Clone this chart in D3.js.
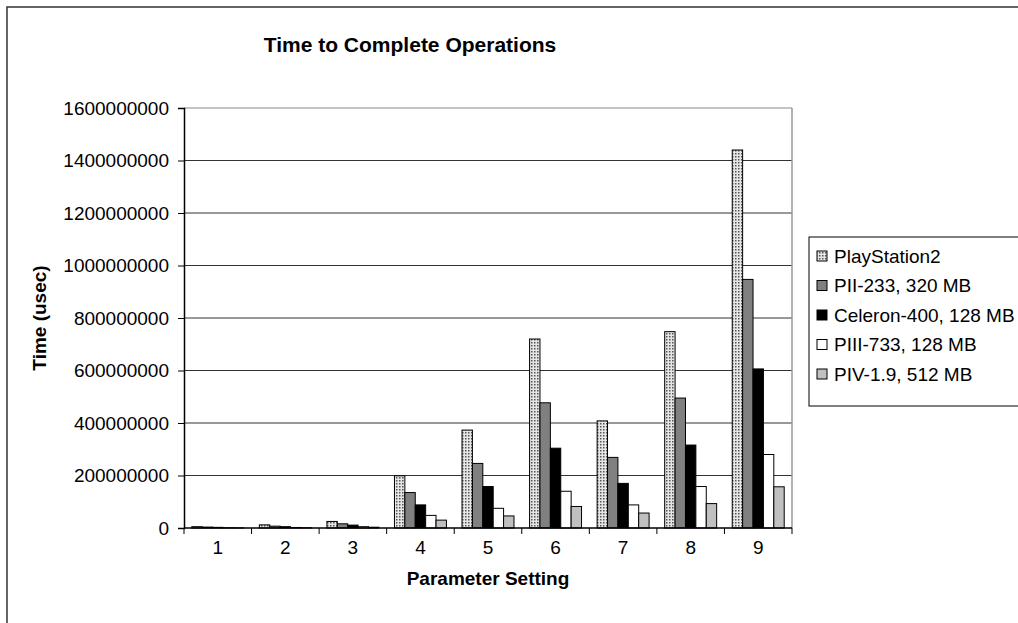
<!DOCTYPE html>
<html><head><meta charset="utf-8">
<script src="https://cdn.jsdelivr.net/npm/d3@7"></script>
<style>body{margin:0;background:#fff;}svg{display:block;font-family:"Liberation Sans",Arial,sans-serif;}</style>
</head><body>
<svg id="c" width="1018" height="623"></svg>
<script>
const categories = ["1","2","3","4","5","6","7","8","9"];
const seriesNames = ["PlayStation2","PII-233, 320 MB","Celeron-400, 128 MB","PIII-733, 128 MB","PIV-1.9, 512 MB"];
const playStation2 = [5e6, 12e6, 25e6, 199e6, 373e6, 720e6, 408e6, 748e6, 1440e6];
const pII233 = [3.5e6, 7e6, 16e6, 135e6, 246e6, 477e6, 269e6, 495e6, 947e6];
const celeron400 = [2.5e6, 5e6, 11e6, 88e6, 158e6, 304e6, 170e6, 316e6, 606e6];
const pIII733 = [1e6, 2e6, 5e6, 48e6, 75e6, 140e6, 88e6, 158e6, 280e6];
const pIV19 = [0.5e6, 1e6, 3e6, 30e6, 46e6, 82e6, 57e6, 93e6, 157e6];
const yTicks = [0,200000000,400000000,600000000,800000000,1000000000,1200000000,1400000000,1600000000];
const seriesValues = [playStation2, pII233, celeron400, pIII733, pIV19];
const fills = ["url(#ps2)","#808080","#000000","#ffffff","#c0c0c0"];

const svg = d3.select("#c");
const defs = svg.append("defs");
const pat = defs.append("pattern").attr("id","ps2").attr("patternUnits","userSpaceOnUse").attr("width",3).attr("height",3);
pat.append("rect").attr("width",3).attr("height",3).attr("fill","#e6e6e6");
pat.append("rect").attr("width",1.5).attr("height",1.5).attr("fill","#555");

// outer chart border
svg.append("rect").attr("x",7).attr("y",7).attr("width",1030).attr("height",640)
  .attr("fill","none").attr("stroke","#333").attr("stroke-width",1.5);

const L=184, R=792, T=108, B=528;
const x0 = d3.scaleBand().domain(categories).range([L,R]).paddingInner(0).paddingOuter(0);
const x1 = d3.scaleBand().domain(d3.range(5)).range([0,x0.bandwidth()]).paddingOuter(0.75).paddingInner(0);
const y = d3.scaleLinear().domain([0,1600000000]).range([B,T]);

// gridlines
svg.append("g").selectAll("line").data(yTicks.slice(1)).join("line")
  .attr("x1",L).attr("x2",R).attr("y1",d=>y(d)).attr("y2",d=>y(d))
  .attr("stroke",(d,i,a)=> i===a.length-1 ? "#888" : "#333").attr("stroke-width",1);
// right border of plot
svg.append("line").attr("x1",R).attr("x2",R).attr("y1",T).attr("y2",B).attr("stroke","#999").attr("stroke-width",1.5);

// bars
const g = svg.append("g");
categories.forEach((c,ci)=>{
  seriesValues.forEach((vals,si)=>{
    const v = vals[ci];
    g.append("rect")
      .attr("x", x0(c)+x1(si))
      .attr("y", y(v))
      .attr("width", x1.bandwidth())
      .attr("height", B - y(v))
      .attr("fill", fills[si])
      .attr("stroke","#000").attr("stroke-width",1);
  });
});

const FS = 19;
// y axis
const ya = d3.axisLeft(y).tickValues(yTicks).tickSize(6).tickPadding(9).tickFormat(d3.format("d"));
const yg = svg.append("g").attr("transform",`translate(${L},0)`).call(ya);
yg.select(".domain").attr("stroke","#000").attr("stroke-width",1.5);
yg.selectAll(".tick line").attr("stroke","#000");
yg.selectAll("text").attr("font-size",FS).attr("fill","#000").attr("font-family","Liberation Sans, Arial, sans-serif");

// x axis
const xa = d3.axisBottom(x0).tickSize(0).tickPadding(13);
const xg = svg.append("g").attr("transform",`translate(0,${B})`).call(xa);
xg.select(".domain").remove();
xg.selectAll("text").attr("font-size",FS).attr("fill","#000").attr("font-family","Liberation Sans, Arial, sans-serif");
svg.append("line").attr("x1",L).attr("x2",R).attr("y1",B).attr("y2",B).attr("stroke","#000").attr("stroke-width",1.5);
svg.append("g").selectAll("line").data(categories.concat(["end"])).join("line")
  .attr("x1",(d,i)=>L+i*x0.step()).attr("x2",(d,i)=>L+i*x0.step())
  .attr("y1",B).attr("y2",B+6).attr("stroke","#000");

// titles
svg.append("text").attr("x",410).attr("y",52).attr("text-anchor","middle")
  .attr("font-size",21).attr("font-weight","bold").text("Time to Complete Operations");
svg.append("text").attr("x",488).attr("y",585).attr("text-anchor","middle")
  .attr("font-size",FS).attr("font-weight","bold").text("Parameter Setting");
svg.append("text").attr("transform","translate(46,318) rotate(-90)").attr("text-anchor","middle")
  .attr("font-size",FS).attr("font-weight","bold").text("Time (usec)");

// legend
const lg = svg.append("g");
lg.append("rect").attr("x",809).attr("y",237).attr("width",230).attr("height",169)
  .attr("fill","#fff").attr("stroke","#000").attr("stroke-width",1);
seriesNames.forEach((n,i)=>{
  const yy = 256 + i*29.5;
  lg.append("rect").attr("x",817).attr("y",yy-5).attr("width",10).attr("height",10)
    .attr("fill",fills[i]).attr("stroke","#000").attr("stroke-width",1);
  lg.append("text").attr("x",834).attr("y",yy+6.5).attr("font-size",FS).text(n);
});
</script>
</body></html>
